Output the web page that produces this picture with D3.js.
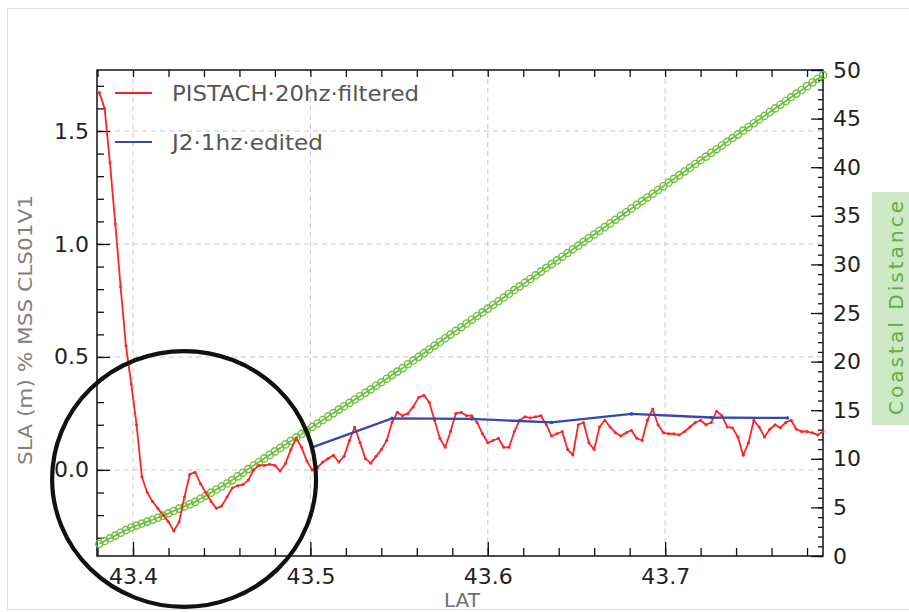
<!DOCTYPE html>
<html><head><meta charset="utf-8">
<script src="https://cdn.jsdelivr.net/npm/d3@7"></script>
<style>body{margin:0;background:#fff}svg{display:block}</style>
</head><body><svg id="c" width="909" height="612"></svg>
<script>
// ---------- data ----------
const lat = [43.381,43.384,43.387,43.390,43.393,43.396,43.399,43.402,43.405,43.408,
43.411,43.414,43.417,43.420,43.423,43.426,43.429,43.432,43.435,43.438,
43.441,43.444,43.447,43.450,43.453,43.456,43.459,43.462,43.465,43.468,
43.471,43.474,43.477,43.480,43.483,43.486,43.489,43.492,43.495,43.498,
43.501,43.504,43.507,43.510,43.513,43.516,43.519,43.522,43.525,43.528,
43.531,43.534,43.537,43.540,43.543,43.546,43.549,43.552,43.555,43.558,
43.561,43.564,43.567,43.570,43.573,43.576,43.579,43.582,43.585,43.588,
43.591,43.594,43.597,43.600,43.603,43.606,43.609,43.612,43.615,43.618,
43.621,43.624,43.627,43.630,43.633,43.636,43.639,43.642,43.645,43.648,
43.651,43.654,43.657,43.660,43.663,43.666,43.669,43.672,43.675,43.678,
43.681,43.684,43.687,43.690,43.693,43.696,43.699,43.702,43.705,43.708,
43.711,43.714,43.717,43.720,43.723,43.726,43.729,43.732,43.735,43.738,
43.741,43.744,43.747,43.750,43.753,43.756,43.759,43.762,43.765,43.768,
43.771,43.774,43.777,43.780,43.783,43.786,43.789];

const pistachSla = [1.67,1.60,1.36,1.09,0.81,0.55,0.38,0.20,-0.03,-0.10,
-0.14,-0.17,-0.20,-0.23,-0.27,-0.23,-0.12,-0.02,-0.01,-0.06,
-0.10,-0.14,-0.17,-0.16,-0.12,-0.08,-0.07,-0.065,-0.045,0.0,
0.02,0.02,0.025,0.02,-0.005,0.03,0.09,0.14,0.10,0.04,
0.0,0.01,0.035,0.05,0.065,0.035,0.06,0.13,0.19,0.12,
0.05,0.03,0.06,0.09,0.13,0.21,0.255,0.24,0.25,0.28,
0.32,0.33,0.30,0.22,0.14,0.10,0.17,0.25,0.255,0.24,
0.24,0.21,0.16,0.12,0.13,0.14,0.10,0.10,0.17,0.22,
0.235,0.23,0.235,0.24,0.20,0.15,0.16,0.17,0.09,0.066,
0.20,0.21,0.12,0.09,0.19,0.22,0.19,0.165,0.15,0.165,
0.175,0.14,0.13,0.22,0.27,0.20,0.165,0.16,0.16,0.155,
0.17,0.19,0.21,0.22,0.20,0.21,0.26,0.24,0.19,0.186,
0.146,0.065,0.12,0.22,0.19,0.146,0.18,0.20,0.186,0.21,
0.22,0.18,0.17,0.17,0.164,0.155,0.17];

const coastalDistance = [1.26,1.54,1.82,2.10,2.39,2.67,2.93,3.13,3.34,3.54,
3.73,3.94,4.15,4.39,4.63,4.87,5.10,5.33,5.57,5.89,
6.21,6.52,6.84,7.15,7.46,7.81,8.19,8.57,8.94,9.31,
9.67,10.04,10.40,10.76,11.12,11.48,11.84,12.20,12.56,12.92,
13.28,13.63,13.99,14.34,14.70,15.06,15.41,15.75,16.10,16.44,
16.79,17.14,17.52,17.88,18.24,18.61,18.97,19.33,19.73,20.11,
20.49,20.87,21.25,21.64,22.02,22.40,22.78,23.16,23.54,23.92,
24.31,24.69,25.07,25.45,25.83,26.21,26.59,26.98,27.36,27.74,
28.12,28.50,28.88,29.26,29.65,30.03,30.41,30.79,31.17,31.55,
31.93,32.32,32.70,33.08,33.46,33.84,34.22,34.60,34.99,35.37,
35.75,36.13,36.51,36.89,37.27,37.66,38.04,38.42,38.80,39.18,
39.56,39.94,40.33,40.71,41.09,41.47,41.85,42.23,42.61,43.00,
43.38,43.76,44.14,44.52,44.90,45.28,45.67,46.05,46.43,46.81,
47.19,47.57,47.95,48.34,48.72,49.10,49.48];

const j2Lat = [43.501,43.546,43.591,43.636,43.681,43.726,43.769];
const j2Sla = [0.10,0.228,0.226,0.21,0.248,0.232,0.23];

const xTicks = [43.4,43.5,43.6,43.7];
const yLeftTicks = [0.0,0.5,1.0,1.5];
const yRightTicks = [0,5,10,15,20,25,30,35,40,45,50];
const seriesNames = ["PISTACH\u00B720hz\u00B7filtered","J2\u00B71hz\u00B7edited"];
const yLeftTitle = "SLA (m) % MSS CLS01V1";
const yRightTitle = "Coastal Distance";
const xTitle = "LAT";
// annotation ellipse (data units)
const ringCenter = {lat:43.4288, sla:-0.04};
const ringRadius = {lat:0.0744, sla:0.566};

// ---------- drawing ----------
const svg = d3.select("#c");
const M = {l:97, r:823, t:70, b:556};
const x = d3.scaleLinear().domain([43.3797, 43.789]).range([M.l, M.r]);
const yL = d3.scaleLinear().domain([-0.381, 1.770]).range([M.b, M.t]);
const yR = d3.scaleLinear().domain([0, 50]).range([M.b, M.t]);
const font = "'DejaVu Sans', 'Liberation Sans', sans-serif";

svg.append("rect").attr("width",909).attr("height",612).attr("fill","#fff");
svg.append("rect").attr("x",7.5).attr("y",8.5).attr("width",905).attr("height",601)
  .attr("fill","none").attr("stroke","#e2e2e2");

// grid
const grid = svg.append("g").attr("stroke","#c9c9c9").attr("stroke-width",1).attr("stroke-dasharray","5,4");
grid.selectAll(".gx").data(xTicks).join("line")
  .attr("x1",d=>x(d)).attr("x2",d=>x(d)).attr("y1",M.t).attr("y2",M.b);
grid.selectAll(".gy").data(yLeftTicks).join("line")
  .attr("y1",d=>yL(d)).attr("y2",d=>yL(d)).attr("x1",M.l).attr("x2",M.r);

function styleAxis(g){
  g.select(".domain").remove();
  g.selectAll("line").attr("stroke","#111").attr("stroke-width",1.3);
  g.selectAll("text").attr("font-family",font).attr("font-size",22).attr("fill","#222");
}
// bottom
svg.append("g").attr("transform",`translate(0,${M.b})`)
  .call(d3.axisBottom(x).tickValues(x.ticks(20)).tickSize(-8).tickFormat("")).call(styleAxis);
svg.append("g").attr("transform",`translate(0,${M.b})`)
  .call(d3.axisBottom(x).tickValues(xTicks).tickSize(-14).tickPadding(12).tickFormat(d3.format(".1f"))).call(styleAxis);
// top
svg.append("g").attr("transform",`translate(0,${M.t})`)
  .call(d3.axisTop(x).tickValues(x.ticks(20)).tickSize(-7).tickFormat("")).call(styleAxis);
// left
svg.append("g").attr("transform",`translate(${M.l},0)`)
  .call(d3.axisLeft(yL).tickValues(yL.ticks(20)).tickSize(-7).tickFormat("")).call(styleAxis);
svg.append("g").attr("transform",`translate(${M.l},0)`)
  .call(d3.axisLeft(yL).tickValues(yLeftTicks).tickSize(-13).tickPadding(8).tickFormat(d3.format(".1f"))).call(styleAxis);
// right
svg.append("g").attr("transform",`translate(${M.r},0)`)
  .call(d3.axisRight(yR).tickValues(yR.ticks(50)).tickSize(-5).tickFormat("")).call(styleAxis);
svg.append("g").attr("transform",`translate(${M.r},0)`)
  .call(d3.axisRight(yR).tickValues(yRightTicks).tickSize(-12).tickPadding(10).tickFormat(d3.format("d"))).call(styleAxis);

// frame
svg.append("rect").attr("x",M.l).attr("y",M.t).attr("width",M.r-M.l).attr("height",M.b-M.t)
  .attr("fill","none").attr("stroke","#111").attr("stroke-width",1.5);

// green coastal distance
const green = "#6fc13f";
const gIdx = d3.range(lat.length);
svg.append("path").datum(gIdx)
  .attr("d", d3.line().x(i=>x(lat[i])).y(i=>yR(coastalDistance[i])))
  .attr("fill","none").attr("stroke",green).attr("stroke-width",1.8);
svg.append("g").selectAll("circle").data(gIdx).join("circle")
  .attr("cx",i=>x(lat[i])).attr("cy",i=>yR(coastalDistance[i])).attr("r",3.6)
  .attr("fill","none").attr("stroke",green).attr("stroke-width",1.4);

// red PISTACH
const red = "#ff2424";
svg.append("path").datum(gIdx)
  .attr("d", d3.line().x(i=>x(lat[i])).y(i=>yL(pistachSla[i])))
  .attr("fill","none").attr("stroke",red).attr("stroke-width",1.8).attr("stroke-linejoin","round");
svg.append("g").selectAll("circle").data(gIdx).join("circle")
  .attr("cx",i=>x(lat[i])).attr("cy",i=>yL(pistachSla[i])).attr("r",1.5).attr("fill",red);

// blue J2
const blue = "#3449b0";
const bIdx = d3.range(j2Lat.length);
svg.append("path").datum(bIdx)
  .attr("d", d3.line().x(i=>x(j2Lat[i])).y(i=>yL(j2Sla[i])))
  .attr("fill","none").attr("stroke",blue).attr("stroke-width",2.3);
svg.append("g").selectAll("circle").data(bIdx).join("circle")
  .attr("cx",i=>x(j2Lat[i])).attr("cy",i=>yL(j2Sla[i])).attr("r",1.8).attr("fill",blue);

// legend
const legend = [{c:red, y:93, w:247},{c:blue, y:142, w:151}];
legend.forEach((l,k)=>{
  svg.append("line").attr("x1",115).attr("x2",152).attr("y1",l.y).attr("y2",l.y)
    .attr("stroke",l.c).attr("stroke-width",2.2);
  svg.append("text").attr("x",172).attr("y",l.y+8).attr("font-family",font).attr("font-size",22)
    .attr("fill","#555").attr("textLength",l.w).attr("lengthAdjust","spacingAndGlyphs").text(seriesNames[k]);
});

// titles
svg.append("text").attr("transform","translate(32,330) rotate(-90)").attr("text-anchor","middle")
  .attr("font-family",font).attr("font-size",20).attr("fill","#808080")
  .attr("textLength",270).attr("lengthAdjust","spacingAndGlyphs").text(yLeftTitle);
svg.append("text").attr("x",462).attr("y",607).attr("text-anchor","middle")
  .attr("font-family",font).attr("font-size",20).attr("fill","#707070").text(xTitle);
svg.append("rect").attr("x",872).attr("y",192).attr("width",37).attr("height",233).attr("fill","#cde8c4");
svg.append("text").attr("transform","translate(903,308) rotate(-90)").attr("text-anchor","middle")
  .attr("font-family",font).attr("font-size",20).attr("fill","#62ad48")
  .attr("textLength",214).attr("lengthAdjust","spacing").text(yRightTitle);

// annotation ring
svg.append("ellipse")
  .attr("cx",x(ringCenter.lat)).attr("cy",yL(ringCenter.sla))
  .attr("rx",x(ringCenter.lat+ringRadius.lat)-x(ringCenter.lat))
  .attr("ry",yL(ringCenter.sla)-yL(ringCenter.sla+ringRadius.sla))
  .attr("fill","none").attr("stroke","#111").attr("stroke-width",4.2);
</script></body></html>
